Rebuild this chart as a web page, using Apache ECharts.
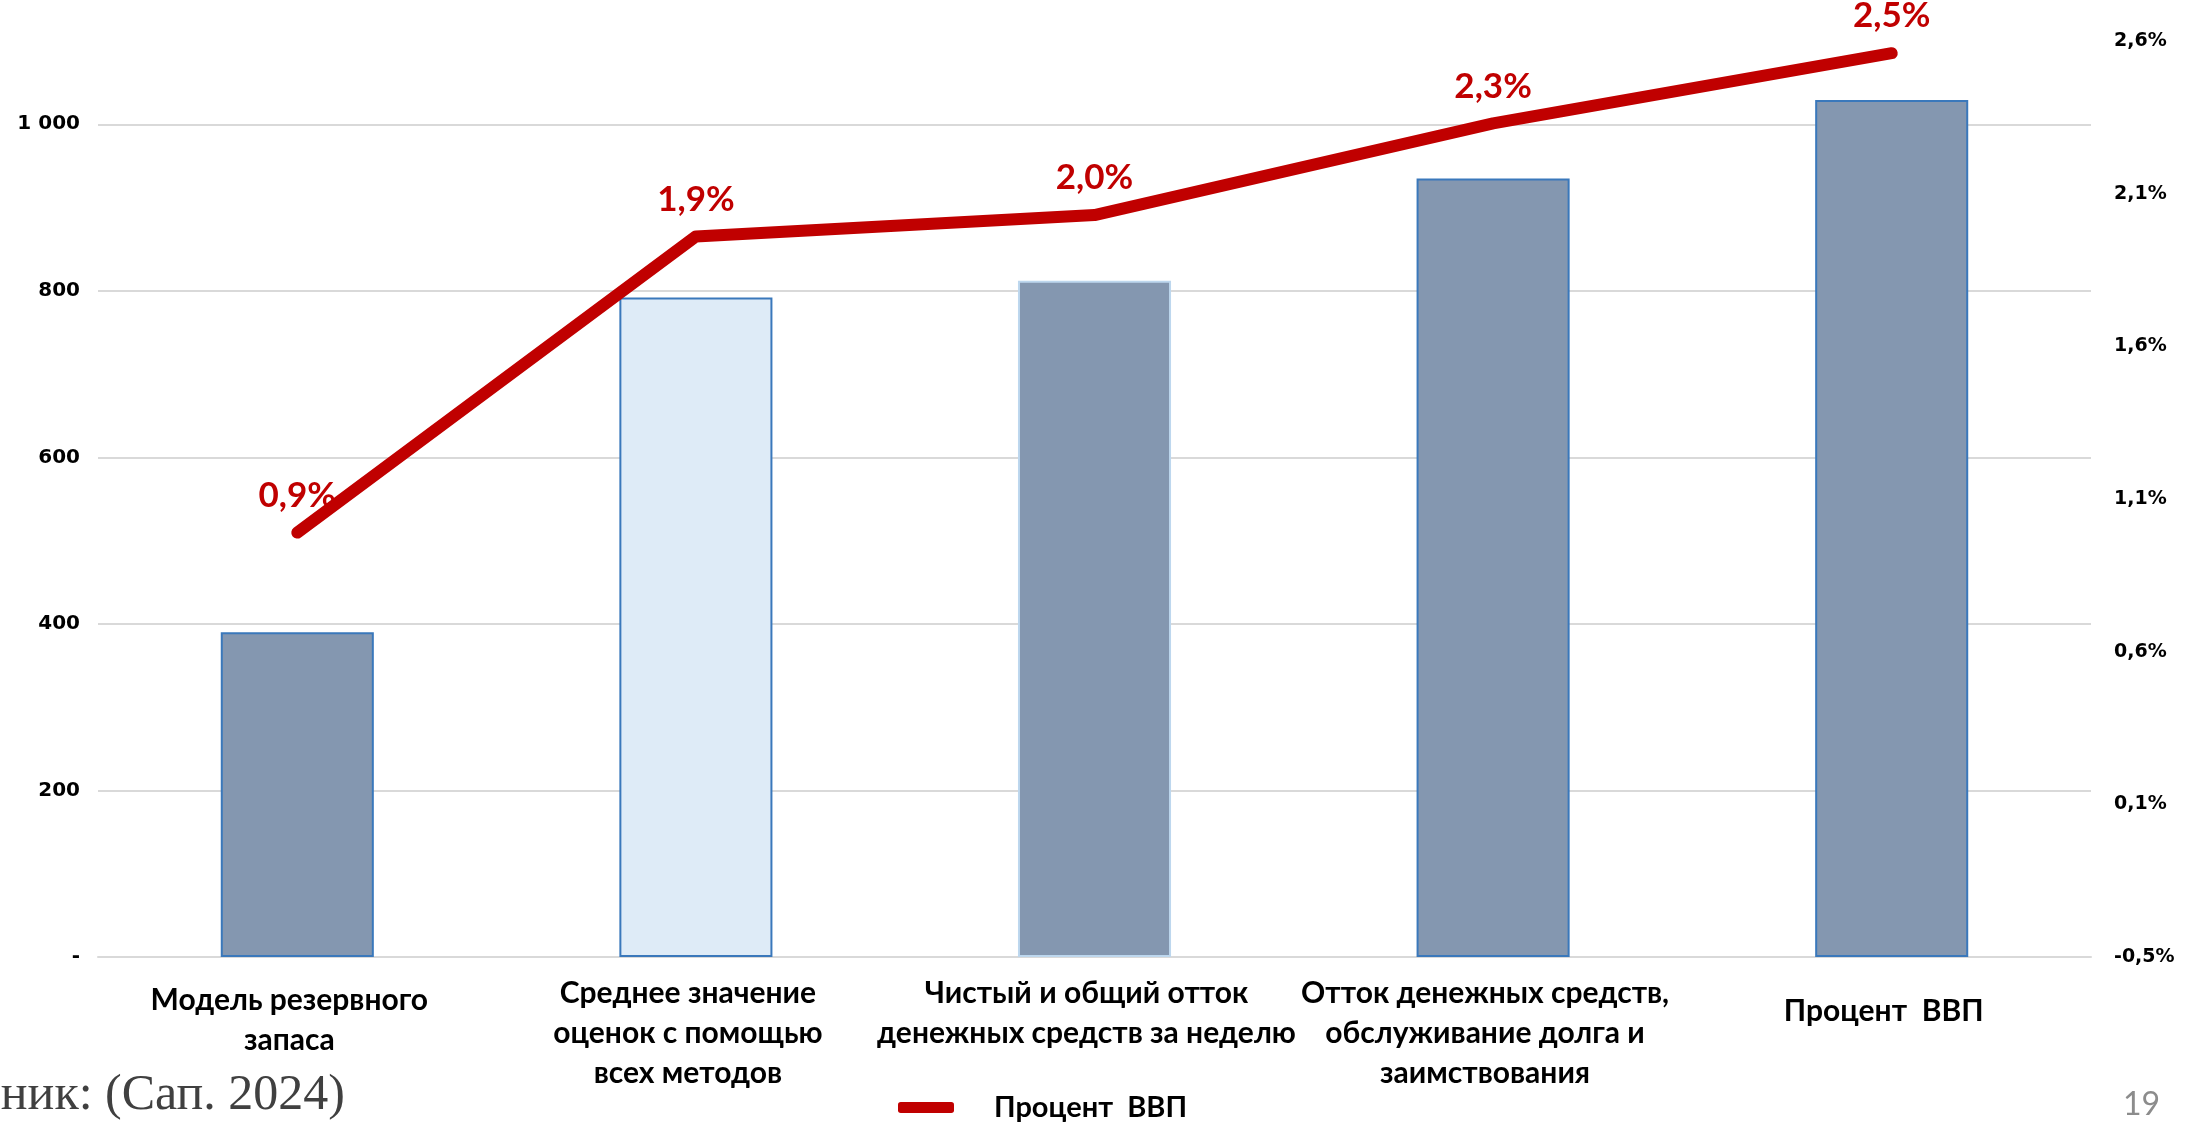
<!DOCTYPE html>
<html>
<head>
<meta charset="utf-8">
<title>Процент ВВП</title>
<script src="https://cdn.jsdelivr.net/npm/echarts@6/dist/echarts.min.js"></script>
<style>
    html, body { margin: 0; padding: 0; background: #fff; }
    #chart { width: 2198px; height: 1123px; }
</style>
</head>
<body>
<div id="chart"></div>
<script>
// data
var categories = [
    'Модель резервного\nзапаса',
    'Среднее значение\nоценок с помощью\nвсех методов',
    'Чистый и общий отток\nденежных средств за неделю',
    'Отток денежных средств,\nобслуживание долга и\nзаимствования',
    'Процент  ВВП'
];
var barValues = [390, 792, 812, 935, 1029];
var gdpPercent = [0.94, 1.91, 1.98, 2.28, 2.51];

var leftMin = 0, leftMax = 1100, leftStep = 200;
var rightMin = -0.45, rightMax = 2.55, rightStep = 0.5;

var sourceText = 'Источник: (Сап. 2024)';
var pageNumber = '19';

// styles
var barFill = ['#8497b0', '#deebf7', '#8497b0', '#8497b0', '#8497b0'];
var barBorder = ['#3a78bb', '#3a78bb', '#bdd7ee', '#3a78bb', '#3a78bb'];
var labelPadTop = [7, 0, 0, 0, 18];
var red = '#c00000';

function pct(v) {
    var s = v < 0 ? -1 : 1;
    var r = s * Math.round(Math.abs(v) * 10 + 1e-6) / 10;
    return r.toFixed(1).replace('.', ',') + '%';
}

function initChart() {
    var dom = document.getElementById('chart');
    var myChart = echarts.init(dom, null, { renderer: 'canvas' });

    var bars = barValues.map(function (v, i) {
        return {
            value: v,
            itemStyle: { color: barFill[i], borderColor: barBorder[i], borderWidth: 2 }
        };
    });
    var cats = categories.map(function (c, i) {
        return { value: c, textStyle: { padding: [labelPadTop[i], 16, 0, 0] } };
    });

    var option = {
        animation: false,
        backgroundColor: '#fff',
        grid: { left: 98, right: 107, top: 41, bottom: 166, containLabel: false },
        legend: {
            data: ['Процент  ВВП'],
            left: 893,
            top: 1088,
            icon: 'roundRect',
            itemWidth: 56,
            itemHeight: 11,
            textStyle: {
                fontFamily: 'Lato', fontWeight: 'bold', fontSize: 29, color: '#000',
                padding: [0, 0, 0, 35]
            }
        },
        xAxis: {
            type: 'category',
            data: cats,
            axisTick: { show: false },
            axisLine: { lineStyle: { color: '#d9d9d9', width: 2 } },
            axisLabel: {
                interval: 0,
                margin: 16,
                fontFamily: 'Lato', fontWeight: 'bold', fontSize: 30,
                lineHeight: 40, color: '#000'
            }
        },
        yAxis: [{
            type: 'value',
            min: leftMin,
            max: leftMax,
            interval: leftStep,
            axisLine: { show: false },
            axisTick: { show: false },
            splitLine: { show: true, showMaxLine: false, lineStyle: { color: '#d9d9d9', width: 2 } },
            axisLabel: {
                showMaxLabel: false,
                margin: 18,
                fontFamily: 'DejaVu Sans', fontWeight: 'bold', fontSize: 20, color: '#000',
                formatter: function (v) {
                    if (v === 0) return '-';
                    return String(v).replace(/\B(?=(\d{3})+(?!\d))/g, ' ');
                }
            }
        }, {
            type: 'value',
            min: rightMin,
            max: rightMax,
            interval: rightStep,
            position: 'right',
            axisLine: { show: false },
            axisTick: { show: false },
            splitLine: { show: false },
            axisLabel: {
                margin: 23,
                fontFamily: 'DejaVu Sans', fontWeight: 'bold', fontSize: 19, color: '#000',
                formatter: pct
            }
        }],
        series: [{
                name: 'Оценка',
                type: 'bar',
                data: bars,
                barWidth: '38.4%',
                yAxisIndex: 0
            },
            {
                name: 'Процент  ВВП',
                type: 'line',
                yAxisIndex: 1,
                data: gdpPercent,
                symbol: 'circle',
                symbolSize: 1,
                itemStyle: { color: red },
                lineStyle: { color: red, width: 12, cap: 'round', join: 'round' },
                z: 5,
                label: {
                    show: true,
                    position: 'top',
                    distance: 19,
                    fontFamily: 'Lato', fontWeight: 'bold', fontSize: 35, color: red,
                    formatter: function (p) { return pct(p.value); }
                }
            }
        ],
        graphic: [{
                type: 'text',
                right: 2198 - 345,
                top: 1071,
                style: {
                    text: sourceText,
                    font: '50px "Liberation Serif"',
                    fill: '#404040',
                    textAlign: 'right'
                }
            },
            {
                type: 'text',
                right: 38,
                top: 1089,
                style: {
                    text: pageNumber,
                    font: '32px Lato',
                    fill: '#8c8c8c'
                }
            }
        ]
    };

    if (option && typeof option === 'object') {
        myChart.setOption(option, true);
    }
}

initChart();
</script>
</body>
</html>
